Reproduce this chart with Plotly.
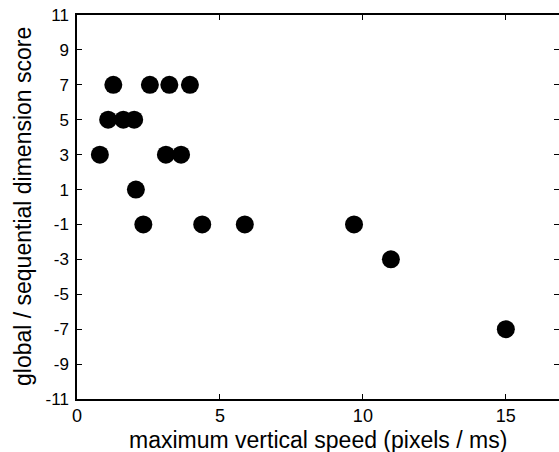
import plotly.graph_objects as go

# velocità verticale massima (pixel / ms) e punteggio globale/sequenziale
speed = [0.80, 1.09, 1.27, 1.62, 2.00, 2.06, 2.32, 2.55, 3.11, 3.23,
         3.64, 3.95, 4.38, 5.87, 9.69, 10.98, 15.0]
score = [3, 5, 7, 5, 5, 1, -1, 7, 3, 7,
         3, 7, -1, -1, -1, -3, -7]

x_ticks = [0, 5, 10, 15]
y_ticks = list(range(-11, 12, 2))
y_labels = [str(v) for v in y_ticks]  # trattino semplice come nell'originale

fig = go.Figure()
fig.add_trace(go.Scatter(
    x=speed, y=score, mode="markers",
    marker=dict(size=18, color="black", line=dict(width=0)),
    showlegend=False,
))

axis_common = dict(
    showgrid=False, zeroline=False, showline=True, linecolor="black",
    linewidth=1.5, mirror="ticks", ticks="inside", ticklen=5,
    tickcolor="black", tickwidth=1, automargin=False,
)

fig.update_layout(
    width=559, height=452,
    margin=dict(l=77, r=0, t=15, b=53),
    paper_bgcolor="white", plot_bgcolor="white",
    font=dict(family="Liberation Sans, Arial, sans-serif", color="black"),
    xaxis=dict(range=[0, 16.86], tickvals=x_ticks, tickfont=dict(size=18),
               **axis_common),
    yaxis=dict(range=[-11, 11], tickvals=y_ticks, ticktext=y_labels,
               tickfont=dict(size=17), ticklabelstandoff=3, **axis_common),
    annotations=[
        dict(text="maximum vertical speed (pixels / ms)", xref="paper",
             yref="paper", x=0.5, y=-0.106, xanchor="center",
             yanchor="middle", showarrow=False, font=dict(size=23)),
        dict(text="global / sequential dimension score", xref="paper",
             yref="paper", x=-0.112, y=0.5, xanchor="center",
             yanchor="middle", showarrow=False, textangle=-90,
             font=dict(size=23)),
    ],
)

# niente margine della pagina: la figura parte dall'angolo in alto a sinistra
fig.write_html("out.html", config={"displayModeBar": False},
               post_script="document.body.style.margin='0';")
